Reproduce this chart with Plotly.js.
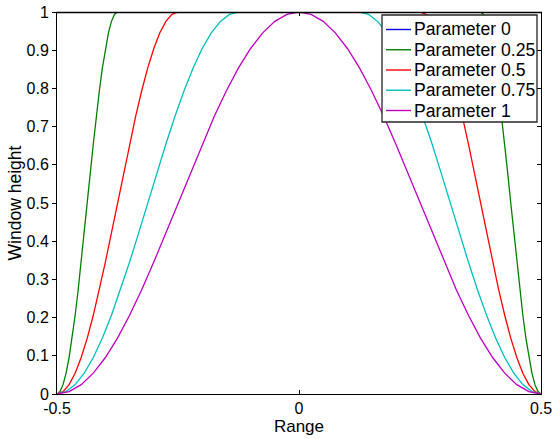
<!DOCTYPE html>
<html>
<head>
<meta charset="utf-8">
<script src="https://cdn.plot.ly/plotly-3.0.1.min.js"></script>
<style>
  html, body { margin: 0; padding: 0; background: #fff; }
  #chart { width: 553px; height: 439px; }
</style>
</head>
<body>
<div id="chart"></div>
<script>
// Tukey (tapered cosine) windows over the normalised range [-0.5, 0.5]
var seriesNames = ['Parameter 0', 'Parameter 0.25', 'Parameter 0.5', 'Parameter 0.75', 'Parameter 1'];
var seriesColors = ['#0000ff', '#008000', '#ff0000', '#00bfbf', '#bf00bf'];

// Parameter 0: rectangular window
var xP0 = [-0.5, 0.5];
var yP0 = [1, 1];

// Parameter 0.25
var xP025 = [-0.5, -0.49375, -0.4875, -0.48125, -0.475, -0.46875, -0.4625, -0.45625, -0.45, -0.44375, -0.4375,
             -0.43125, -0.425, -0.41875, -0.4125, -0.40625, -0.4, -0.39375, -0.3875, -0.38125, -0.375,
             0.375, 0.38125, 0.3875, 0.39375, 0.4, 0.40625, 0.4125, 0.41875, 0.425, 0.43125, 0.4375,
             0.44375, 0.45, 0.45625, 0.4625, 0.46875, 0.475, 0.48125, 0.4875, 0.49375, 0.5];
var yP025 = [0, 0.0062, 0.0245, 0.0545, 0.0955, 0.1464, 0.2061, 0.2730, 0.3455, 0.4218, 0.5,
             0.5782, 0.6545, 0.7270, 0.7939, 0.8536, 0.9045, 0.9455, 0.9755, 0.9938, 1,
             1, 0.9938, 0.9755, 0.9455, 0.9045, 0.8536, 0.7939, 0.7270, 0.6545, 0.5782, 0.5,
             0.4218, 0.3455, 0.2730, 0.2061, 0.1464, 0.0955, 0.0545, 0.0245, 0.0062, 0];

// Parameter 0.5
var xP05 = [-0.5, -0.4875, -0.475, -0.4625, -0.45, -0.4375, -0.425, -0.4125, -0.4, -0.3875, -0.375,
            -0.3625, -0.35, -0.3375, -0.325, -0.3125, -0.3, -0.2875, -0.275, -0.2625, -0.25,
            0.25, 0.2625, 0.275, 0.2875, 0.3, 0.3125, 0.325, 0.3375, 0.35, 0.3625, 0.375,
            0.3875, 0.4, 0.4125, 0.425, 0.4375, 0.45, 0.4625, 0.475, 0.4875, 0.5];
var yP05 = [0, 0.0062, 0.0245, 0.0545, 0.0955, 0.1464, 0.2061, 0.2730, 0.3455, 0.4218, 0.5,
            0.5782, 0.6545, 0.7270, 0.7939, 0.8536, 0.9045, 0.9455, 0.9755, 0.9938, 1,
            1, 0.9938, 0.9755, 0.9455, 0.9045, 0.8536, 0.7939, 0.7270, 0.6545, 0.5782, 0.5,
            0.4218, 0.3455, 0.2730, 0.2061, 0.1464, 0.0955, 0.0545, 0.0245, 0.0062, 0];

// Parameter 0.75
var xP075 = [-0.5, -0.48125, -0.4625, -0.44375, -0.425, -0.40625, -0.3875, -0.36875, -0.35, -0.33125, -0.3125,
             -0.29375, -0.275, -0.25625, -0.2375, -0.21875, -0.2, -0.18125, -0.1625, -0.14375, -0.125,
             0.125, 0.14375, 0.1625, 0.18125, 0.2, 0.21875, 0.2375, 0.25625, 0.275, 0.29375, 0.3125,
             0.33125, 0.35, 0.36875, 0.3875, 0.40625, 0.425, 0.44375, 0.4625, 0.48125, 0.5];
var yP075 = [0, 0.0062, 0.0245, 0.0545, 0.0955, 0.1464, 0.2061, 0.2730, 0.3455, 0.4218, 0.5,
             0.5782, 0.6545, 0.7270, 0.7939, 0.8536, 0.9045, 0.9455, 0.9755, 0.9938, 1,
             1, 0.9938, 0.9755, 0.9455, 0.9045, 0.8536, 0.7939, 0.7270, 0.6545, 0.5782, 0.5,
             0.4218, 0.3455, 0.2730, 0.2061, 0.1464, 0.0955, 0.0545, 0.0245, 0.0062, 0];

// Parameter 1: Hann window
var xP1 = [-0.5, -0.475, -0.45, -0.425, -0.4, -0.375, -0.35, -0.325, -0.3, -0.275, -0.25,
           -0.225, -0.2, -0.175, -0.15, -0.125, -0.1, -0.075, -0.05, -0.025, 0,
           0.025, 0.05, 0.075, 0.1, 0.125, 0.15, 0.175, 0.2, 0.225, 0.25,
           0.275, 0.3, 0.325, 0.35, 0.375, 0.4, 0.425, 0.45, 0.475, 0.5];
var yP1 = [0, 0.0062, 0.0245, 0.0545, 0.0955, 0.1464, 0.2061, 0.2730, 0.3455, 0.4218, 0.5,
           0.5782, 0.6545, 0.7270, 0.7939, 0.8536, 0.9045, 0.9455, 0.9755, 0.9938, 1,
           0.9938, 0.9755, 0.9455, 0.9045, 0.8536, 0.7939, 0.7270, 0.6545, 0.5782, 0.5,
           0.4218, 0.3455, 0.2730, 0.2061, 0.1464, 0.0955, 0.0545, 0.0245, 0.0062, 0];

// Axis ticks
var xTickVals = [-0.5, 0, 0.5];
var xTickText = ['-0.5', '0', '0.5'];
var yTickVals = [0, 0.1, 0.2, 0.3, 0.4, 0.5, 0.6, 0.7, 0.8, 0.9, 1];
var yTickText = ['0', '0.1', '0.2', '0.3', '0.4', '0.5', '0.6', '0.7', '0.8', '0.9', '1'];

var xs = [xP0, xP025, xP05, xP075, xP1];
var ys = [yP0, yP025, yP05, yP075, yP1];

var FONT = 'Liberation Sans, Arial, Helvetica, sans-serif';
var W = 553, H = 439;
var M = {l: 57, r: 12, t: 12, b: 45};
var plotW = W - M.l - M.r, plotH = H - M.t - M.b;
function px(x) { return (x - M.l) / plotW; }
function py(y) { return (H - M.b - y) / plotH; }

var traces = xs.map(function (x, i) {
  return {
    x: x, y: ys[i], type: 'scatter', mode: 'lines', name: seriesNames[i],
    line: {color: seriesColors[i], width: 1.3},
    showlegend: false, hoverinfo: 'x+y+name'
  };
});
// invisible traces carrying the mirrored top and right axes
traces.push({x: [0], y: [0], xaxis: 'x2', yaxis: 'y2', mode: 'markers', marker: {opacity: 0},
             showlegend: false, hoverinfo: 'skip'});

var shapes = [
  // upper frame edge, laid over the curves that run along y = 1
  {type: 'line', xref: 'paper', yref: 'paper', layer: 'above',
   x0: px(M.l - 1), x1: px(W - M.r + 1), y0: py(12.4), y1: py(12.4), line: {color: '#000', width: 1.5}}
];

// boxed legend in the upper right corner
var legBox = {x0: 382, y0: 15, x1: 537, y1: 122};
var rowY0 = 29.5, rowStep = 20.25;
shapes.push({
  type: 'rect', xref: 'paper', yref: 'paper', layer: 'above',
  x0: px(legBox.x0), x1: px(legBox.x1), y0: py(legBox.y1), y1: py(legBox.y0),
  line: {color: '#262626', width: 1.3}, fillcolor: '#ffffff'
});
var annotations = [];
seriesNames.forEach(function (name, i) {
  var ry = rowY0 + i * rowStep;
  shapes.push({
    type: 'line', xref: 'paper', yref: 'paper', layer: 'above',
    x0: px(386), x1: px(411), y0: py(ry), y1: py(ry),
    line: {color: seriesColors[i], width: 1.4}
  });
  annotations.push({
    xref: 'paper', yref: 'paper', x: px(412), y: py(ry),
    xanchor: 'left', yanchor: 'middle', showarrow: false,
    text: name, font: {family: FONT, size: 17.6, color: '#000'}
  });
});

var layout = {
  width: W, height: H,
  margin: M,
  paper_bgcolor: '#fff', plot_bgcolor: '#fff',
  font: {family: FONT, size: 16, color: '#000'},
  showlegend: false,
  xaxis: {
    range: [-0.5, 0.5], tickmode: 'array', tickvals: xTickVals, ticktext: xTickText,
    ticks: 'inside', ticklen: 4, tickcolor: '#000',
    showline: true, linecolor: '#000', linewidth: 1,
    showgrid: false, zeroline: false, fixedrange: true,
    title: {text: 'Range', font: {family: FONT, size: 17}, standoff: 1}
  },
  xaxis2: {
    overlaying: 'x', side: 'top', range: [-0.5, 0.5],
    tickmode: 'array', tickvals: xTickVals, showticklabels: false,
    ticks: 'inside', ticklen: 4, tickcolor: '#000',
    showline: false, showgrid: false, zeroline: false, fixedrange: true
  },
  yaxis: {
    range: [0, 1], tickmode: 'array', tickvals: yTickVals, ticktext: yTickText,
    ticks: 'outside', ticklen: 4, tickcolor: '#000',
    showline: true, linecolor: '#000', linewidth: 1,
    showgrid: false, zeroline: false, fixedrange: true,
    title: {text: 'Window height', font: {family: FONT, size: 17.5}, standoff: 0}
  },
  yaxis2: {
    overlaying: 'y', side: 'right', range: [0, 1],
    tickmode: 'array', tickvals: yTickVals, showticklabels: false,
    ticks: 'inside', ticklen: 4, tickcolor: '#000',
    showline: true, linecolor: '#000', linewidth: 1,
    showgrid: false, zeroline: false, fixedrange: true
  },
  shapes: shapes,
  annotations: annotations
};

Plotly.newPlot('chart', traces, layout, {displayModeBar: false, staticPlot: true});
</script>
</body>
</html>
